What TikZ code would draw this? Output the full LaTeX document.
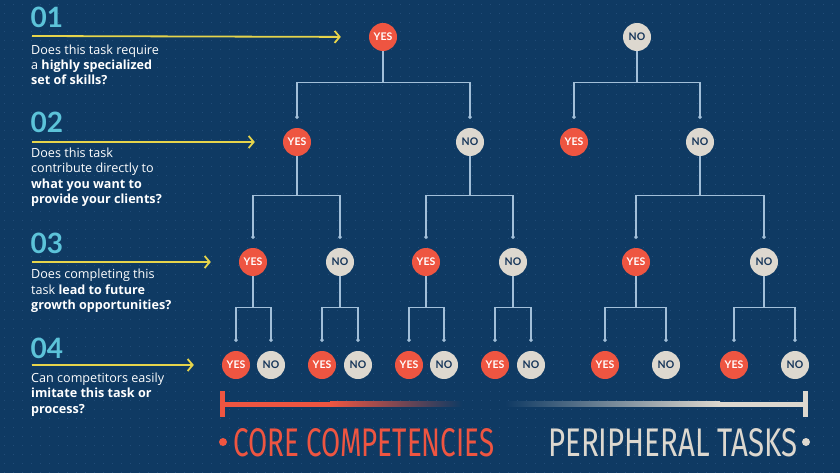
\documentclass[tikz,border=0pt]{standalone}
\usepackage{fontspec}
\setmainfont{Lato}
\newfontfamily\brushfont{Fira Sans}
\newfontfamily\qfont{Open Sans}
\usetikzlibrary{arrows.meta}
\definecolor{bg}{HTML}{0F3A63}
\definecolor{gridc}{HTML}{214C78}
\definecolor{cred}{HTML}{EE5541}
\definecolor{cgray}{HTML}{DDD8CF}
\definecolor{cnavy}{HTML}{17365A}
\definecolor{ccyan}{HTML}{5CC3D9}
\definecolor{cyel}{HTML}{E6D44B}
\definecolor{cline}{HTML}{A2BFD9}
\newcommand\branchto[3]{\draw[conn] (#1.south) -- (#1.south |- 0,#3) -| ([yshift=9pt]#2.north);}
\begin{document}
\begin{tikzpicture}[x=1pt,y=-1pt,
  yesnode/.style={circle, fill=cred, minimum size=28pt, inner sep=0pt, text=white, font=\bfseries\fontsize{10.5}{11}\selectfont},
  nonode/.style={circle, fill=cgray, minimum size=28pt, inner sep=0pt, text=cnavy, font=\bfseries\fontsize{10.5}{11}\selectfont},
  conn/.style={draw=cline, line width=1.3pt, -{Circle[length=3.4pt]}},
  qline/.style={anchor=base west, inner sep=0pt, text=white, font=\qfont\fontsize{12.6}{15}\selectfont},
  numtxt/.style={anchor=base west, inner sep=0pt, text=ccyan, font=\bfseries\fontsize{28}{28}\selectfont},
  yarrow/.style={draw=cyel, line width=1.8pt, -{Straight Barb[length=5pt,width=12pt,line width=1.8pt]}, shorten >=28pt},
  brush/.style={anchor=base west, inner sep=0pt, font=\brushfont}
]
\fill[bg] (0,0) rectangle (840,473);
\useasboundingbox (0,0) rectangle (840,473);
\foreach \i in {0,...,92}{\foreach \j in {0,...,52}{\fill[gridc] ({4.5+9*\i},{4.5+9*\j}) circle (0.6pt);}}

% left texts
\node[numtxt] (n1) at (30.5,28) {01};
\node[qline] (q1a) at (31,55) {Does this task require};
\node[qline] (q1b) at (31,70) {a \textbf{highly specialized}};
\node[qline] (q1c) at (31,85) {\textbf{set of skills?}};

\node[numtxt] (n2) at (30.5,133) {02};
\node[qline] (q2a) at (31,158) {Does this task};
\node[qline] (q2b) at (31,173) {contribute directly to};
\node[qline] (q2c) at (31,189) {\textbf{what you want to}};
\node[qline] (q2d) at (31,204) {\textbf{provide your clients?}};

\node[numtxt] (n3) at (30.5,253) {03};
\node[qline] (q3a) at (31,278) {Does completing this};
\node[qline] (q3b) at (31,294) {task \textbf{lead to future}};
\node[qline] (q3c) at (31,309) {\textbf{growth opportunities?}};

\node[numtxt] (n4) at (30.5,358) {04};
\node[qline] (q4a) at (31,382) {Can competitors easily};
\node[qline] (q4b) at (31,397) {\textbf{imitate this task or}};
\node[qline] (q4c) at (31,413) {\textbf{process?}};

% level 1
\node[yesnode] (a) at (383,37) {YES};
\node[nonode] (b) at (637,37) {NO};
% level 2
\node[yesnode] (aa) at (297,142) {YES};
\node[nonode] (ab) at (470,142) {NO};
\node[yesnode] (ba) at (574,142) {YES};
\node[nonode] (bb) at (700,142) {NO};
% level 3
\node[yesnode] (aaa) at (253,262) {YES};
\node[nonode] (aab) at (340,262) {NO};
\node[yesnode] (aba) at (426,262) {YES};
\node[nonode] (abb) at (513,262) {NO};
\node[yesnode] (bba) at (636,262) {YES};
\node[nonode] (bbb) at (764,262) {NO};
% level 4
\node[yesnode] (aaaa) at (236,365) {YES};
\node[nonode] (aaab) at (271,365) {NO};
\node[yesnode] (aaba) at (322,365) {YES};
\node[nonode] (aabb) at (358,365) {NO};
\node[yesnode] (abaa) at (409,365) {YES};
\node[nonode] (abab) at (444,365) {NO};
\node[yesnode] (abba) at (495,365) {YES};
\node[nonode] (abbb) at (531,365) {NO};
\node[yesnode] (bbaa) at (605,365) {YES};
\node[nonode] (bbab) at (666,365) {NO};
\node[yesnode] (bbba) at (734,365) {YES};
\node[nonode] (bbbb) at (795,365) {NO};

% connectors
\branchto{a}{aa}{82.7}\branchto{a}{ab}{82.7}
\branchto{b}{ba}{82.7}\branchto{b}{bb}{82.7}
\branchto{aa}{aaa}{195.7}\branchto{aa}{aab}{195.7}
\branchto{ab}{aba}{195.7}\branchto{ab}{abb}{195.7}
\branchto{bb}{bba}{195.7}\branchto{bb}{bbb}{195.7}
\branchto{aaa}{aaaa}{307.3}\branchto{aaa}{aaab}{307.3}
\branchto{aab}{aaba}{307.3}\branchto{aab}{aabb}{307.3}
\branchto{aba}{abaa}{307.3}\branchto{aba}{abab}{307.3}
\branchto{abb}{abba}{307.3}\branchto{abb}{abbb}{307.3}
\branchto{bba}{bbaa}{307.3}\branchto{bba}{bbab}{307.3}
\branchto{bbb}{bbba}{307.3}\branchto{bbb}{bbbb}{307.3}

% yellow arrows
\coordinate (s1) at (32,36);
\coordinate (s2) at (32,142);
\coordinate (s3) at (32,262);
\coordinate (s4) at (32,365);
\draw[yarrow] (s1) -- (a.center -| a.west);
\draw[yarrow] (s2) -- (aa.west);
\draw[yarrow] (s3) -- (aaa.west);
\draw[yarrow] (s4) -- (aaaa.west);

% scale bar
\fill[cred] (222,401.5) rectangle (330,406.5);
\shade[left color=cred, right color=bg] (330,401.5) rectangle (462,406.5);
\shade[left color=bg, right color=cgray] (505,401.5) rectangle (720,406.5);
\fill[cgray] (720,401.5) rectangle (805,406.5);
\fill[cred] (219.5,391) rectangle (224.5,417);
\fill[cgray] (802.5,391) rectangle (807.5,417);

% bottom labels
\fill[cred] (223,442) circle (4pt);
\fill[cgray] (806,442) circle (4pt);
\node[brush, text=cred] (core) at (233,456) {\resizebox{261pt}{28pt}{CORE COMPETENCIES}};
\node[brush, text=cgray] (peri) at (548,456) {\resizebox{249pt}{28pt}{PERIPHERAL TASKS}};
\end{tikzpicture}
\end{document}
